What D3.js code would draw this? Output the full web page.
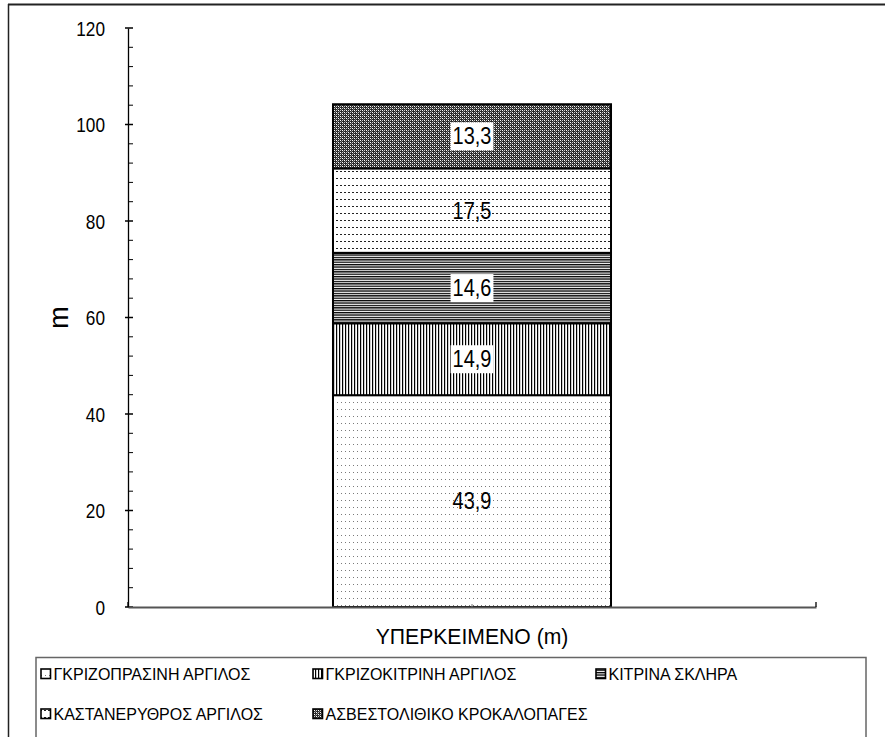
<!DOCTYPE html>
<html>
<head>
<meta charset="utf-8">
<script src="https://cdn.jsdelivr.net/npm/d3@7"></script>
<style>
  html, body { margin: 0; padding: 0; background: #fff; }
  svg { display: block; font-family: "Liberation Sans", Arial, sans-serif; }
</style>
</head>
<body>
<svg id="chart" width="885" height="737"></svg>
<script>
// Stratigraphic column of the overburden, thickness of each layer in metres
const category = "ΥΠΕΡΚΕΙΜΕΝΟ (m)";
const layers = ["ΓΚΡΙΖΟΠΡΑΣΙΝΗ ΑΡΓΙΛΟΣ", "ΓΚΡΙΖΟΚΙΤΡΙΝΗ ΑΡΓΙΛΟΣ", "ΚΙΤΡΙΝΑ ΣΚΛΗΡΑ",
                "ΚΑΣΤΑΝΕΡΥΘΡΟΣ ΑΡΓΙΛΟΣ", "ΑΣΒΕΣΤΟΛΙΘΙΚΟ ΚΡΟΚΑΛΟΠΑΓΕΣ"];
const thickness = [43.9, 14.9, 14.6, 17.5, 13.3];
const yTicks = [0, 20, 40, 60, 80, 100, 120];
const yTitle = "m";

const svg = d3.select("#chart");
const W = 885, H = 737;
const plot = { left: 128, right: 816, top: 28, bottom: 607 };
const FONT = "Liberation Sans, Arial, sans-serif";

// text helper: places a horizontally condensed label at (x, y)
function condensed(sel, x, yy, size, anchor, txt, sx) {
  return sel.append("text")
    .attr("transform", `translate(${x},${yy}) scale(${sx},1)`)
    .attr("text-anchor", anchor).attr("font-size", size)
    .attr("font-family", FONT).attr("fill", "#000").text(txt);
}

// ---- fill patterns for each layer ----
const defs = svg.append("defs");
const patternIds = ["p-dots", "p-vert", "p-horz", "p-dash", "p-cross"];

// light dotted
let p = defs.append("pattern").attr("id", "p-dots").attr("patternUnits", "userSpaceOnUse")
  .attr("width", 4).attr("height", 7);
p.append("rect").attr("width", 4).attr("height", 7).attr("fill", "#fff");
p.append("rect").attr("x", 1).attr("y", 3).attr("width", 1).attr("height", 1).attr("fill", "#7a7a7a");

// vertical lines
p = defs.append("pattern").attr("id", "p-vert").attr("patternUnits", "userSpaceOnUse")
  .attr("width", 3).attr("height", 3);
p.append("rect").attr("width", 3).attr("height", 3).attr("fill", "#fff");
p.append("rect").attr("x", 0).attr("width", 1.2).attr("height", 3).attr("fill", "#000");

// horizontal lines
p = defs.append("pattern").attr("id", "p-horz").attr("patternUnits", "userSpaceOnUse")
  .attr("width", 3).attr("height", 2.4);
p.append("rect").attr("width", 3).attr("height", 2.4).attr("fill", "#fff");
p.append("rect").attr("y", 0).attr("width", 3).attr("height", 1.3).attr("fill", "#000");

// dashed rows
p = defs.append("pattern").attr("id", "p-dash").attr("patternUnits", "userSpaceOnUse")
  .attr("width", 4).attr("height", 7);
p.append("rect").attr("width", 4).attr("height", 7).attr("fill", "#fff");
p.append("rect").attr("x", 0).attr("y", 3).attr("width", 2).attr("height", 1).attr("fill", "#222");

// cross-hatch weave
p = defs.append("pattern").attr("id", "p-cross").attr("patternUnits", "userSpaceOnUse")
  .attr("width", 4).attr("height", 4);
p.append("rect").attr("width", 4).attr("height", 4).attr("fill", "#2a2a2a");
[[0, 0, "#fff"], [2, 2, "#fff"], [2, 0, "#ccc"], [0, 2, "#ccc"], [1, 1, "#777"], [3, 3, "#777"]]
  .forEach(([px, py, c]) =>
    p.append("rect").attr("x", px).attr("y", py).attr("width", 1).attr("height", 1).attr("fill", c));

// ---- outer frame ----
svg.append("line").attr("x1", 8).attr("x2", W).attr("y1", 4.5).attr("y2", 4.5)
  .attr("stroke", "#222").attr("stroke-width", 2);
svg.append("line").attr("x1", 8.5).attr("x2", 8.5).attr("y1", 4).attr("y2", H)
  .attr("stroke", "#222").attr("stroke-width", 1.5);

// ---- scales ----
const y = d3.scaleLinear().domain([0, 120]).range([plot.bottom, plot.top]);
const x = d3.scaleBand().domain([category]).range([plot.left, plot.right])
  .paddingInner(0.4244).paddingOuter(0.4244);

// stack the layers
const stackData = [Object.fromEntries(layers.map((k, i) => [k, thickness[i]]))];
const series = d3.stack().keys(layers)(stackData);

// ---- bars ----
svg.append("g").selectAll("rect.seg").data(series).join("rect")
  .attr("class", "seg")
  .attr("x", x(category))
  .attr("width", x.bandwidth())
  .attr("y", d => y(d[0][1]))
  .attr("height", d => y(d[0][0]) - y(d[0][1]))
  .attr("fill", (d, i) => `url(#${patternIds[i]})`)
  .attr("stroke", "#000").attr("stroke-width", 2);

// ---- y axis ----
const yAxis = d3.axisLeft(y).tickValues(yTicks).tickSizeInner(0).tickSizeOuter(0).tickFormat("");
const ya = svg.append("g").attr("transform", `translate(${plot.left},0)`).call(yAxis);
ya.select(".domain").attr("stroke", "#000").attr("stroke-width", 1.3);
const yLab = svg.append("g");
yTicks.forEach(v => condensed(yLab, plot.left - 23, y(v) + 7.5, 21, "end", v, 0.82));
// minor ticks every 4 m pointing into the plot, majors cross the axis
const minor = d3.range(0, 121, 4);
svg.append("g").selectAll("line").data(minor).join("line")
  .attr("x1", d => plot.left - (d % 20 === 0 ? 3 : 0))
  .attr("x2", plot.left + 5)
  .attr("y1", d => y(d)).attr("y2", d => y(d))
  .attr("stroke", "#000").attr("stroke-width", d => d % 20 === 0 ? 1.5 : 1);

// ---- x axis ----
const xa = svg.append("g").attr("transform", `translate(0,${plot.bottom})`)
  .call(d3.axisBottom(x).tickSize(0).tickFormat(""));
xa.select(".domain").attr("stroke", "#555").attr("stroke-width", 2);
condensed(svg, x(category) + x.bandwidth() / 2, plot.bottom + 37, 22.5, "middle", category, 0.94);
// category boundary ticks
svg.append("g").selectAll("line").data(x.range()).join("line")
  .attr("x1", d => d).attr("x2", d => d)
  .attr("y1", plot.bottom - 5).attr("y2", plot.bottom)
  .attr("stroke", "#000").attr("stroke-width", 1.3);
svg.append("line")
  .attr("x1", x(category) + x.bandwidth() / 2).attr("x2", x(category) + x.bandwidth() / 2)
  .attr("y1", plot.bottom - 3).attr("y2", plot.bottom)
  .attr("stroke", "#777").attr("stroke-width", 1);

// y axis title
svg.append("text")
  .attr("transform", `translate(68,${(plot.top + plot.bottom) / 2}) rotate(-90)`)
  .attr("text-anchor", "middle").attr("font-size", 27).attr("font-family", FONT).text(yTitle);

// ---- value labels ----
const labels = svg.append("g");
series.forEach((s, i) => {
  const cy = (y(s[0][0]) + y(s[0][1])) / 2;
  const cx = x(category) + x.bandwidth() / 2;
  const lg = labels.append("g");
  const t = condensed(lg, cx, cy + 8, 23.5, "middle", String(thickness[i]).replace(".", ","), 0.85);
  if (i !== 0 && i !== 3) {
    const b = t.node().getBBox();
    const w = b.width * 0.85;
    lg.insert("rect", "text").attr("x", cx - w / 2 - 2).attr("y", cy - 14)
      .attr("width", w + 4).attr("height", 28).attr("fill", "#fff");
  }
});

// ---- legend ----
const leg = svg.append("g");
leg.append("rect").attr("x", 36).attr("y", 657.5).attr("width", 830).attr("height", 90)
  .attr("fill", "none").attr("stroke", "#666").attr("stroke-width", 1.5);
const colX = [41, 313, 596];
const rowY = [674, 714];
layers.forEach((name, i) => {
  const cx = colX[i % 3], cy = rowY[Math.floor(i / 3)];
  leg.append("rect").attr("x", cx).attr("y", cy - 5).attr("width", 9.5).attr("height", 9.5)
    .attr("fill", `url(#${patternIds[i]})`).attr("stroke", "#000").attr("stroke-width", 1.6);
  leg.append("text").attr("x", cx + 12.5).attr("y", cy + 5.5).attr("font-size", 16)
    .attr("font-family", FONT).attr("fill", "#000").text(name);
});
</script>
</body>
</html>
